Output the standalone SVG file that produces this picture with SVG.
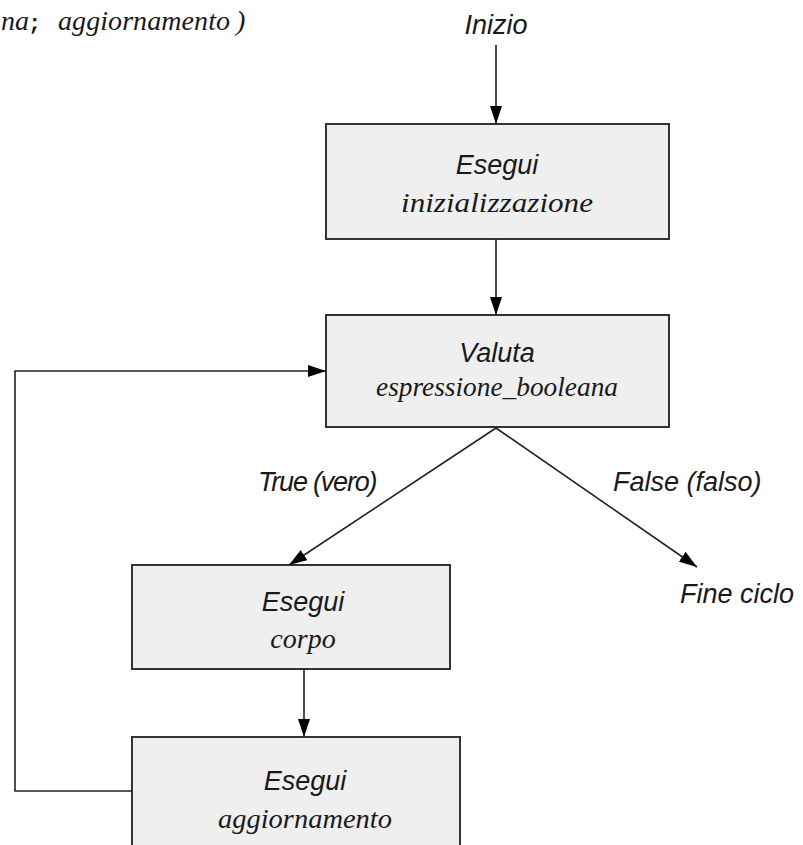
<svg xmlns="http://www.w3.org/2000/svg" width="803" height="845" viewBox="0 0 803 845">
<style>
.box{fill:#efefef;stroke:#333;stroke-width:2}
.sans{font-family:"Liberation Sans","Open Sans",sans-serif;font-style:italic;font-size:27px;fill:#1a1a1a}
.ser{font-family:"Liberation Serif","DejaVu Serif",serif;font-style:italic;font-size:28px;fill:#1a1a1a}
.ln{stroke:#222;stroke-width:1.6;fill:none}
</style>
<defs>
<marker id="ah" viewBox="0 0 18 12" refX="18" refY="6" markerWidth="18" markerHeight="12" markerUnits="userSpaceOnUse" orient="auto">
<path d="M0,0 L18,6 L0,12 z" fill="#000"/>
</marker>
</defs>
<g id="header">
<text x="1" y="30" class="ser" font-size="26">na</text>
<text x="28" y="30" font-family="Liberation Mono,monospace" font-weight="bold" font-size="22" fill="#1a1a1a">;</text>
<text x="58" y="30" class="ser" textLength="172">aggiornamento</text>
<text x="236" y="30" class="ser" font-style="normal">)</text>
</g>
<g id="inizio"><text x="496" y="34" text-anchor="middle" class="sans" font-size="28">Inizio</text></g>
<g id="n1">
<rect x="326" y="124" width="343" height="115" class="box"/>
<text x="497" y="174" text-anchor="middle" class="sans">Esegui</text>
<text x="497" y="212" text-anchor="middle" class="ser" textLength="192" lengthAdjust="spacingAndGlyphs">inizializzazione</text>
</g>
<g id="n2">
<rect x="326" y="315" width="343" height="112" class="box"/>
<text x="497" y="362" text-anchor="middle" class="sans">Valuta</text>
<text x="497" y="396" text-anchor="middle" class="ser" textLength="242" lengthAdjust="spacingAndGlyphs">espressione_booleana</text>
</g>
<g id="n3">
<rect x="132" y="565" width="318" height="104" class="box"/>
<text x="303" y="611" text-anchor="middle" class="sans">Esegui</text>
<text x="303" y="648" text-anchor="middle" class="ser">corpo</text>
</g>
<g id="n4">
<rect x="132" y="737" width="328" height="130" class="box"/>
<text x="305" y="790" text-anchor="middle" class="sans">Esegui</text>
<text x="305" y="828" text-anchor="middle" class="ser" textLength="174" lengthAdjust="spacingAndGlyphs">aggiornamento</text>
</g>
<g id="fine"><text x="680" y="603" class="sans">Fine ciclo</text></g>
<g id="labels">
<text x="258" y="491" class="sans" letter-spacing="-1.2">True (vero)</text>
<text x="613" y="491" class="sans">False (falso)</text>
</g>
<g id="connectors">
<line x1="496" y1="45" x2="496" y2="124" class="ln" marker-end="url(#ah)"/>
<line x1="496" y1="239" x2="496" y2="315" class="ln" marker-end="url(#ah)"/>
<line x1="496" y1="428" x2="289" y2="565" class="ln" marker-end="url(#ah)"/>
<line x1="496" y1="428" x2="697" y2="567" class="ln" marker-end="url(#ah)"/>
<line x1="304" y1="669" x2="304" y2="737" class="ln" marker-end="url(#ah)"/>
<polyline points="132,791 15,791 15,371 326,371" class="ln" marker-end="url(#ah)"/>
</g>
</svg>
